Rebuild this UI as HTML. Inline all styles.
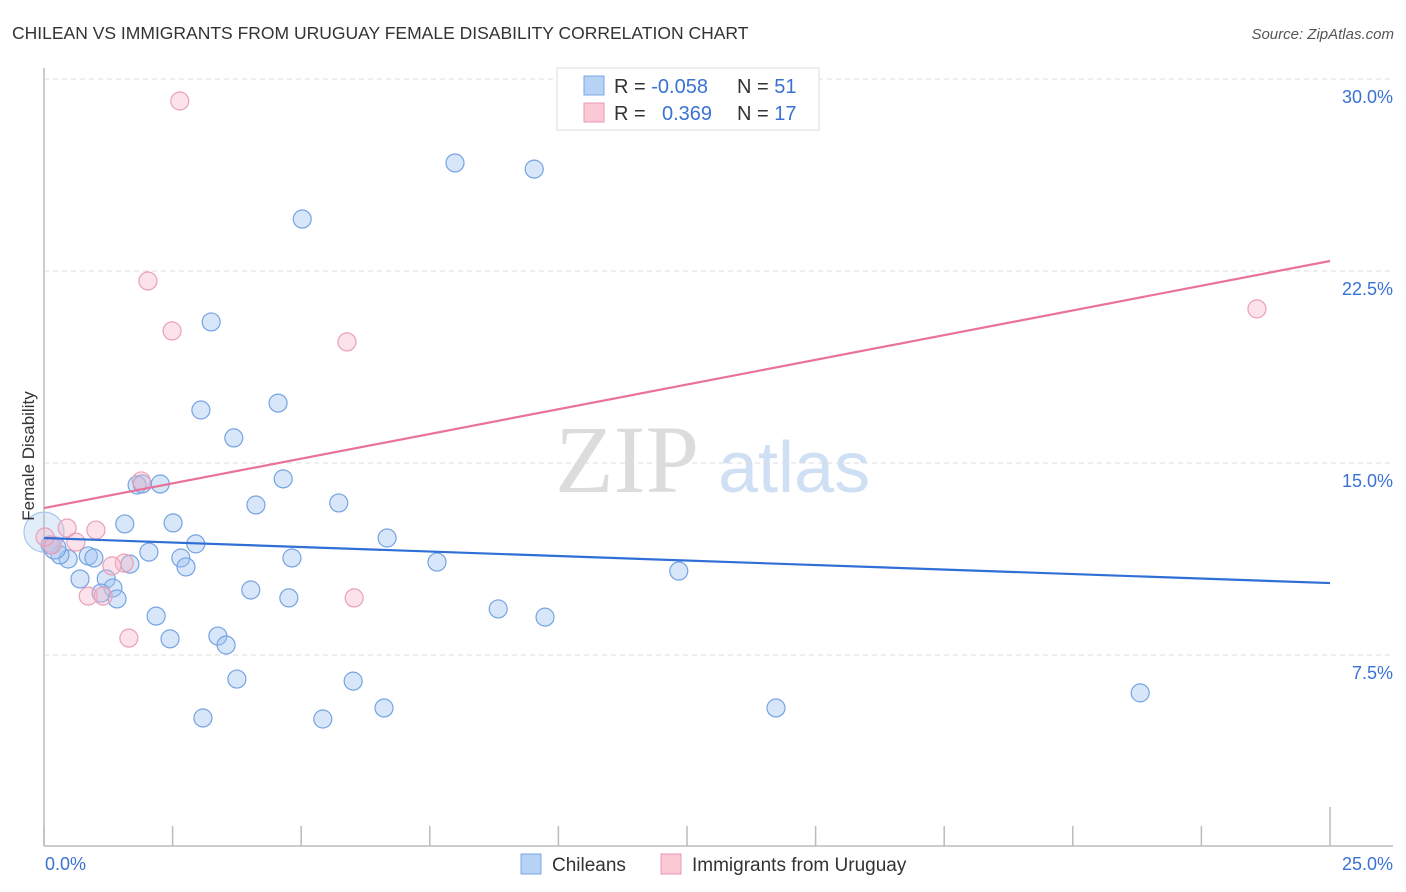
<!DOCTYPE html>
<html><head><meta charset="utf-8"><style>
body{margin:0;background:#fff;font-family:"Liberation Sans",sans-serif;}
svg{display:block}
</style></head><body>
<svg id="chart" width="1406" height="892" xmlns="http://www.w3.org/2000/svg">
<text x="12" y="39" font-size="17.5" fill="#333">CHILEAN VS IMMIGRANTS FROM URUGUAY FEMALE DISABILITY CORRELATION CHART</text>
<text x="1394" y="39" font-size="15" fill="#555" font-style="italic" text-anchor="end">Source: ZipAtlas.com</text>
<g>
<text x="555" y="492" font-size="96" font-family="Liberation Serif,serif" fill="#dcdcdc">ZIP</text>
<text x="718" y="492" font-size="72" fill="#cfe0f5">atlas</text>
</g>
<g id="grid"></g>
<g id="axes"></g>
<g id="marks"></g>
<text transform="translate(34,456) rotate(-90)" font-size="17" fill="#333" text-anchor="middle">Female Disability</text>
<g>
<rect x="557" y="68" width="262" height="62" fill="#fff" stroke="#ddd"/>
<rect x="584" y="76" width="20" height="19" fill="#b8d2f5" stroke="#7aa7e6"/>
<rect x="584" y="103" width="20" height="19" fill="#fbc8d6" stroke="#e99ab2"/>
<text x="614" y="93" font-size="20" fill="#333">R = <tspan fill="#3a72d4">-0.058</tspan></text>
<text x="737" y="93" font-size="20" fill="#333">N = <tspan fill="#3a72d4">51</tspan></text>
<text x="614" y="120" font-size="20" fill="#333">R = </text>
<text x="662" y="120" font-size="20" fill="#3a72d4">0.369</text>
<text x="737" y="120" font-size="20" fill="#333">N = <tspan fill="#3a72d4">17</tspan></text>
</g>
<g>
<rect x="521" y="854" width="20" height="20" fill="#b8d2f5" stroke="#7aa7e6"/>
<text x="552" y="871" font-size="19" fill="#333">Chileans</text>
<rect x="661" y="854" width="20" height="20" fill="#fbc8d6" stroke="#e99ab2"/>
<text x="692" y="871" font-size="19" fill="#333">Immigrants from Uruguay</text>
</g>
</svg>
<script>
const yTicks=[7.5,15,22.5,30];
const yTickLabels=["7.5%","15.0%","22.5%","30.0%"];
const xTicks=[0,2.5,5,7.5,10,12.5,15,17.5,20,22.5,25];
const blueX=[7.99,9.53,5.02,3.25,3.05,4.55,3.69,1.81,1.91,2.26,4.65,4.12,5.73,1.57,2.51,6.67,2.95,2.04,2.66,4.82,0.86,0.97,0.47,0.31,0.12,2.76,1.67,7.64,12.34,0.70,1.21,1.34,1.11,1.42,4.02,4.76,8.83,9.74,2.18,2.45,3.38,3.54,3.75,6.01,21.31,3.09,5.42,6.61,14.23,0.0,0.21];
const blueY=[26.72,26.48,24.53,20.51,17.07,17.34,15.98,14.14,14.18,14.18,14.38,13.36,13.44,12.62,12.66,12.07,11.84,11.52,11.29,11.29,11.37,11.29,11.25,11.41,11.80,10.94,11.05,11.13,10.78,10.47,10.47,10.12,9.92,9.69,10.04,9.73,9.30,8.98,9.02,8.13,8.24,7.89,6.56,6.48,6.02,5.04,5.00,5.43,5.43,12.30,11.68];
const blueR=[9,9,9,9,9,9,9,9,9,9,9,9,9,9,9,9,9,9,9,9,9,9,9,9,9,9,9,9,9,9,9,9,9,9,9,9,9,9,9,9,9,9,9,9,9,9,9,9,9,20,11];
const pinkX=[2.64,2.02,2.49,5.89,23.58,1.89,1.01,0.45,0.62,0.16,0.02,1.56,1.32,0.86,1.15,6.03,1.65];
const pinkY=[29.14,22.11,20.16,19.73,21.02,14.30,12.38,12.46,11.91,11.80,12.11,11.09,10.98,9.80,9.80,9.73,8.16];
const blueTrend=[12.07,10.31];
const pinkTrend=[13.24,22.89];
const trendX=[0,25];
const NS="http://www.w3.org/2000/svg";
const xS=v=>44+v*51.44;
const yS=v=>847-v*25.6;
function mk(tag,attrs,parent){const e=document.createElementNS(NS,tag);for(const k in attrs)e.setAttribute(k,attrs[k]);parent.appendChild(e);return e;}
const grid=document.getElementById('grid'),axes=document.getElementById('axes'),marks=document.getElementById('marks');
yTicks.forEach((t,i)=>{
 const l=mk('line',{x1:44,x2:1393,y1:yS(t),y2:yS(t),stroke:'#ddd','stroke-dasharray':'5,4'},grid);
 
 
 const tx=mk('text',{x:1393,y:yS(t)+24,'font-size':18,fill:'#3a72d4','text-anchor':'end'},axes);
 tx.textContent=yTickLabels[i];
 
 
});
const topG=mk('line',{x1:44,x2:1393,y1:79,y2:79,stroke:'#ddd','stroke-dasharray':'5,4'},grid);


const ya=mk('line',{x1:44,x2:44,y1:68,y2:846,stroke:'#bbb','stroke-width':1.5},axes);


const xa=mk('line',{x1:44,x2:1393,y1:846,y2:846,stroke:'#bbb','stroke-width':1.5},axes);


xTicks.forEach((t,i)=>{
 const tk=mk('line',{x1:xS(t),x2:xS(t),y1:(i==xTicks.length-1?807:826),y2:846,stroke:'#bbb','stroke-width':1.5},axes);
 
 
});
const xl0=mk('text',{x:45,y:870,'font-size':18,fill:'#3a72d4'},axes);xl0.textContent="0.0%";


const xl1=mk('text',{x:1393,y:870,'font-size':18,fill:'#3a72d4','text-anchor':'end'},axes);xl1.textContent="25.0%";


blueX.forEach((x,i)=>{
 const big=blueR[i]>15;
 const c=mk('circle',{cx:xS(x),cy:yS(blueY[i]),r:blueR[i],fill:big?'rgba(160,195,240,0.3)':'rgba(160,195,240,0.42)',stroke:big?'#a9c6ee':'#76a3e2','stroke-width':1.2},marks);
 
 
});
pinkX.forEach((x,i)=>{
 const c=mk('circle',{cx:xS(x),cy:yS(pinkY[i]),r:9,fill:'rgba(248,180,200,0.38)',stroke:'#eaa0b6','stroke-width':1.2},marks);
 
 
});
const bt=mk('line',{x1:xS(trendX[0]),x2:xS(trendX[1]),y1:yS(blueTrend[0]),y2:yS(blueTrend[1]),stroke:'#2f6fd6','stroke-width':2.2},marks);


const pt=mk('line',{x1:xS(trendX[0]),x2:xS(trendX[1]),y1:yS(pinkTrend[0]),y2:yS(pinkTrend[1]),stroke:'#e8729a','stroke-width':2.2},marks);


</script>
</body></html>
